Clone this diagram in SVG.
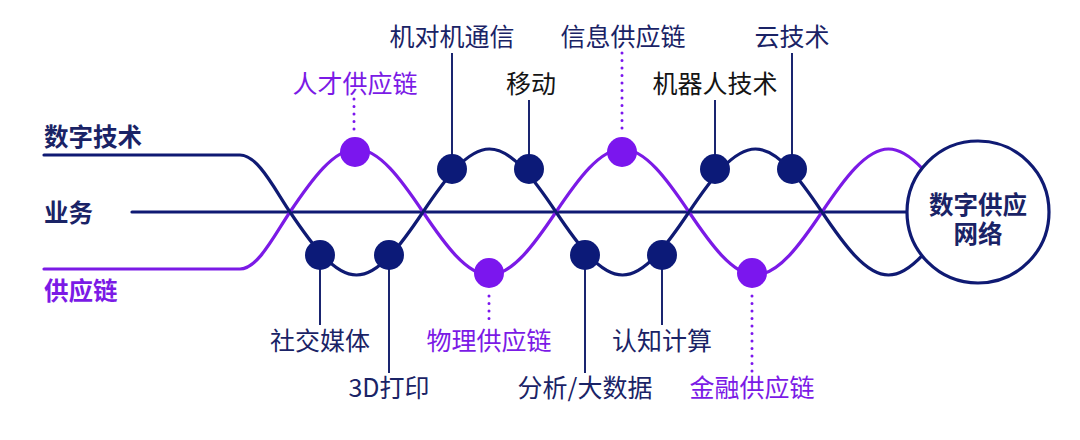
<svg xmlns="http://www.w3.org/2000/svg" width="1080" height="440" viewBox="0 0 1080 440">
<style>
.bg{fill:#ffffff}
.nv{fill:none;stroke:#0f1a73;stroke-width:3.2;stroke-linecap:round}
.pu{fill:none;stroke:#7b1ae6;stroke-width:3.2;stroke-linecap:round}
.dn{fill:#0c1a78}
.dp{fill:#7b16ee}
.ld{stroke:#1a2570;stroke-width:2;fill:none}
.dt{stroke:#7b16ee;stroke-width:3;stroke-linecap:round;stroke-dasharray:0 7.5;fill:none}
text{font-family:"Noto Sans CJK SC","Noto Sans",sans-serif;font-size:25px}
.h{font-weight:700;font-size:24.5px}
.hub{font-family:"Liberation Sans","Noto Sans CJK SC",sans-serif}
.tn{fill:#1a2366}
.tp{fill:#7b1ae6}
.tk{fill:#141414}
.c{text-anchor:middle}
</style>
<rect class="bg" width="1080" height="440"/>
<g id="connectors">
<path class="nv" d="M132,212 H910"/>
<path class="pu" d="M44,269 H240 C258,269 275,234 290,212 C311.69,179.73 333.84,149 356.5,149 C379.16,149 401.31,179.73 423,212 C444.69,244.27 466.84,275 489.5,275 C512.16,275 534.31,244.27 556,212 C577.69,179.73 599.84,149 622.5,149 C645.16,149 667.31,179.73 689,212 C710.69,244.27 732.84,275 755.5,275 C778.16,275 800.31,244.27 822,212 C843.69,179.73 865.84,149 888.5,149 C911.16,149 933.31,179.73 955,212"/>
<path class="nv" d="M44,155 H240 C258,155 275,190 290,212 C311.69,244.27 333.84,275 356.5,275 C379.16,275 401.31,244.27 423,212 C444.69,179.73 466.84,149 489.5,149 C512.16,149 534.31,179.73 556,212 C577.69,244.27 599.84,275 622.5,275 C645.16,275 667.31,244.27 689,212 C710.69,179.73 732.84,149 755.5,149 C778.16,149 800.31,179.73 822,212 C843.69,244.27 865.84,275 888.5,275 C911.16,275 933.31,244.27 955,212"/>
<path class="ld" d="M452,53 V160 M529,100 V160 M715,100 V160 M792,53 V160 M320,262 V325 M389,262 V373 M585,262 V373 M662,262 V325"/>
<path class="dt" d="M354,99 V130 M622,53 V130 M489,296 V326 M752,296 V373"/>
</g>
<g id="hub">
<circle cx="978" cy="212" r="71" fill="#ffffff" stroke="#0f1a73" stroke-width="3.2"/>
<text class="h hub tn c"><tspan x="978" y="214">数字供应</tspan><tspan x="978" y="243">网络</tspan></text>
</g>
<g id="lanes">
<text class="h tn" x="44" y="146">数字技术</text>
<text class="h tn" x="44" y="222">业务</text>
<text class="h tp" x="44" y="300">供应链</text>
</g>
<g id="talent"><circle class="dp" cx="355" cy="152" r="15"/><text class="tp c" x="355" y="93">人才供应链</text></g>
<g id="m2m"><circle class="dn" cx="452" cy="169" r="15"/><text class="tn c" x="452" y="46">机对机通信</text></g>
<g id="mobile"><circle class="dn" cx="529" cy="169" r="15"/><text class="tk c" x="531" y="93">移动</text></g>
<g id="info"><circle class="dp" cx="622" cy="152" r="15"/><text class="tn c" x="623" y="46">信息供应链</text></g>
<g id="robot"><circle class="dn" cx="715" cy="169" r="15"/><text class="tk c" x="715" y="93">机器人技术</text></g>
<g id="cloud"><circle class="dn" cx="792" cy="169" r="15"/><text class="tn c" x="792" y="46">云技术</text></g>
<g id="social"><circle class="dn" cx="320" cy="255" r="15"/><text class="tn c" x="320" y="350">社交媒体</text></g>
<g id="print3d"><circle class="dn" cx="389" cy="255" r="15"/><text class="tn c" x="389" y="397">3D打印</text></g>
<g id="physical"><circle class="dp" cx="489" cy="273" r="15"/><text class="tp c" x="489" y="350">物理供应链</text></g>
<g id="analytics"><circle class="dn" cx="585" cy="255" r="15"/><text class="tn c" x="585" y="397">分析/大数据</text></g>
<g id="cognitive"><circle class="dn" cx="662" cy="255" r="15"/><text class="tn c" x="662" y="350">认知计算</text></g>
<g id="finance"><circle class="dp" cx="752" cy="273" r="15"/><text class="tp c" x="752" y="397">金融供应链</text></g>
</svg>
